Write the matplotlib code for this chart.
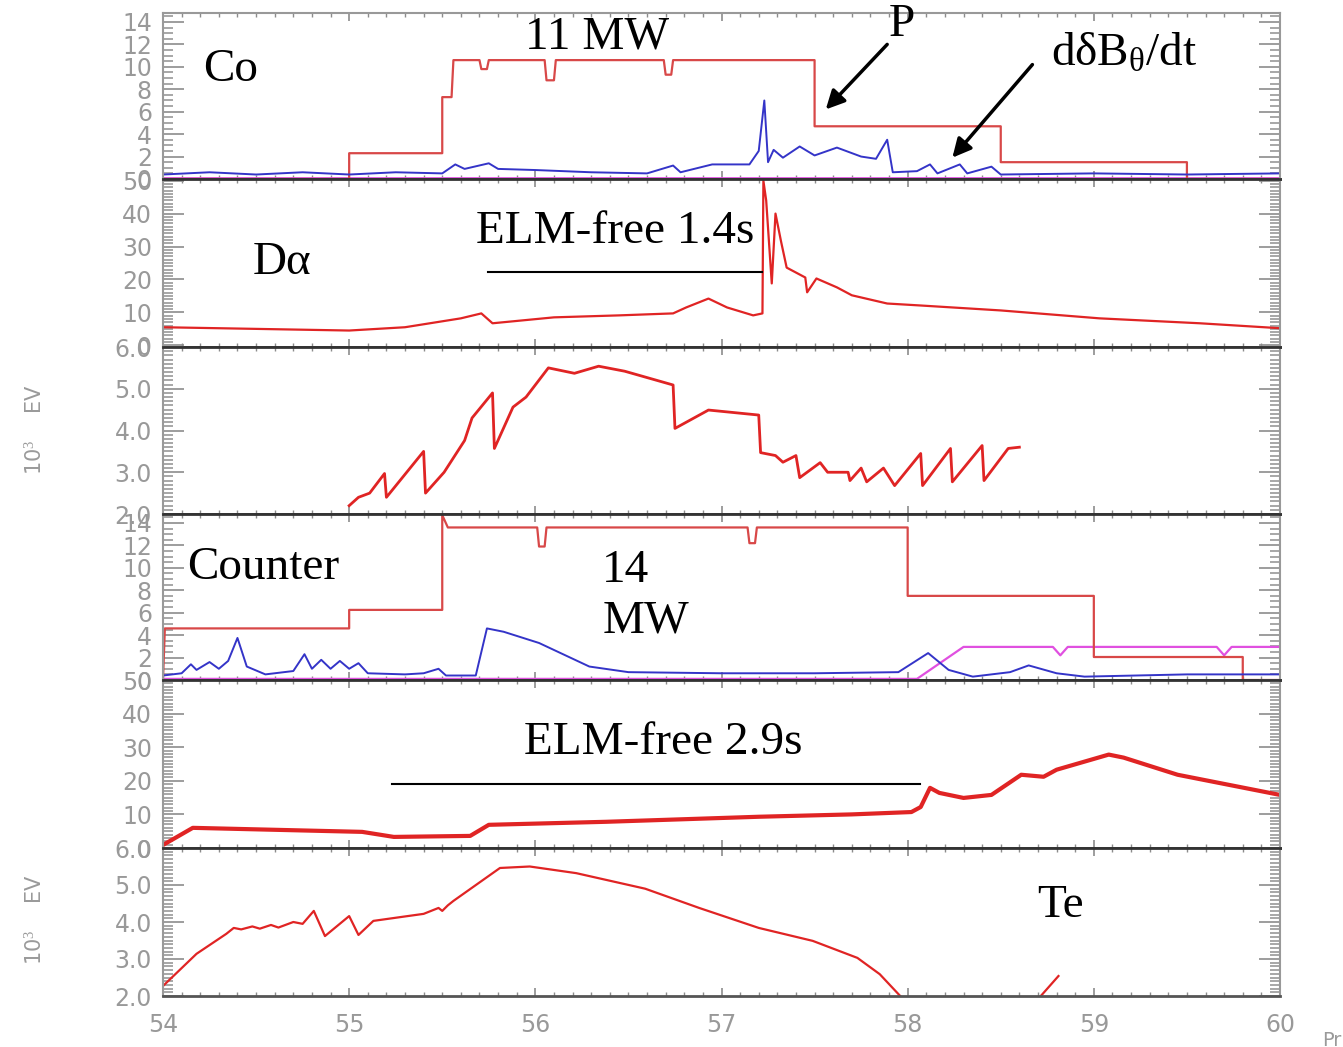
import numpy as np
import matplotlib.pyplot as plt
from matplotlib.ticker import MultipleLocator, FormatStrFormatter

plt.rcParams['mathtext.fontset'] = 'custom'
plt.rcParams['mathtext.rm'] = 'Liberation Serif'
plt.rcParams['mathtext.it'] = 'Liberation Serif:italic'

# ---- co-injection shot: NBI power and d(dB)/dt (MW, a.u.)
co_pow_t = [54.0, 55.0, 55.0, 55.5, 55.5, 55.55, 55.56, 55.70, 55.71, 55.74, 55.75,
            56.05, 56.06, 56.10, 56.11, 56.69, 56.70, 56.73, 56.74, 57.5, 57.5,
            58.5, 58.5, 59.5, 59.5, 60.0]
co_pow_v = [0.0, 0.0, 2.3, 2.3, 7.3, 7.3, 10.6, 10.6, 9.8, 9.8, 10.6,
            10.6, 8.8, 8.8, 10.6, 10.6, 9.3, 9.3, 10.6, 10.6, 4.7,
            4.7, 1.5, 1.5, 0.0, 0.0]

co_db_t = [54.0, 54.25, 54.5, 54.75, 55.0, 55.25, 55.5, 55.57, 55.62, 55.75, 55.8,
           56.0, 56.3, 56.6, 56.74, 56.78, 56.95, 57.15, 57.2, 57.23, 57.25, 57.28,
           57.33, 57.42, 57.5, 57.62, 57.75, 57.83, 57.89, 57.92, 58.05, 58.12,
           58.16, 58.28, 58.32, 58.45, 58.5, 59.0, 59.5, 60.0]
co_db_v = [0.4, 0.6, 0.4, 0.6, 0.4, 0.6, 0.5, 1.3, 0.9, 1.4, 0.9,
           0.8, 0.6, 0.5, 1.2, 0.6, 1.3, 1.3, 2.5, 7.0, 1.5, 2.6,
           1.9, 2.9, 2.1, 2.8, 2.0, 1.8, 3.5, 0.6, 0.7, 1.3,
           0.5, 1.3, 0.5, 1.1, 0.4, 0.5, 0.4, 0.5]

co_mag_t = [54.0, 60.0]
co_mag_v = [0.05, 0.05]

# ---- co-injection D-alpha
co_da_t = [54.0, 54.5, 55.0, 55.3, 55.6, 55.71, 55.77, 56.1, 56.45, 56.74, 56.81,
           56.93, 57.03, 57.17, 57.22, 57.225, 57.24, 57.27, 57.29, 57.32, 57.35,
           57.45, 57.46, 57.51, 57.62, 57.7, 57.89, 58.07, 58.5, 59.03, 59.57, 60.0]
co_da_v = [5.5, 5.0, 4.5, 5.5, 8.2, 9.7, 6.7, 8.5, 9.1, 9.7, 11.5,
           14.2, 11.5, 9.1, 9.7, 50.0, 44.0, 18.8, 40.0, 31.5, 23.6,
           20.6, 16.1, 20.3, 17.6, 15.2, 12.7, 12.1, 10.6, 8.2, 6.7, 5.2]

# ---- co-injection Te (keV)
co_te_t = [55.0, 55.05, 55.11, 55.19, 55.2, 55.4, 55.41, 55.51, 55.62, 55.66, 55.77,
           55.78, 55.88, 55.95, 56.07, 56.21, 56.34, 56.48, 56.74, 56.75, 56.93,
           57.2, 57.21, 57.29, 57.33, 57.4, 57.42, 57.53, 57.57, 57.68, 57.69,
           57.75, 57.78, 57.87, 57.93, 58.07, 58.08, 58.23, 58.24, 58.4, 58.41,
           58.54, 58.6]
co_te_v = [2.2, 2.4, 2.5, 2.97, 2.4, 3.5, 2.5, 3.0, 3.76, 4.3, 4.9,
           3.57, 4.56, 4.8, 5.5, 5.37, 5.54, 5.42, 5.09, 4.05, 4.49,
           4.37, 3.47, 3.4, 3.24, 3.4, 2.87, 3.23, 3.0, 3.0, 2.8,
           3.1, 2.77, 3.1, 2.68, 3.45, 2.68, 3.57, 2.77, 3.64, 2.8,
           3.57, 3.6]

# ---- counter-injection shot
cnt_pow_t = [54.0, 54.01, 55.0, 55.0, 55.5, 55.5, 55.53, 56.01, 56.02, 56.05, 56.06,
             57.14, 57.15, 57.18, 57.19, 58.0, 58.0, 59.0, 59.0, 59.8, 59.8, 60.0]
cnt_pow_v = [0.0, 4.6, 4.6, 6.25, 6.25, 14.7, 13.6, 13.6, 11.9, 11.9, 13.6,
             13.6, 12.2, 12.2, 13.6, 13.6, 7.5, 7.5, 2.05, 2.05, 0.0, 0.0]

cnt_db_t = [54.0, 54.1, 54.15, 54.18, 54.25, 54.3, 54.35, 54.4, 54.45, 54.55, 54.7,
            54.76, 54.8, 54.85, 54.9, 54.95, 55.0, 55.05, 55.1, 55.3, 55.4, 55.48,
            55.52, 55.68, 55.74, 55.83, 56.02, 56.29, 56.5, 57.0, 57.5, 57.95,
            58.11, 58.22, 58.35, 58.55, 58.65, 58.8, 58.95, 59.5, 60.0]
cnt_db_v = [0.4, 0.6, 1.4, 0.9, 1.6, 1.0, 1.7, 3.75, 1.2, 0.5, 0.8,
            2.3, 1.0, 1.8, 1.0, 1.7, 1.0, 1.5, 0.6, 0.5, 0.6, 1.0,
            0.4, 0.4, 4.6, 4.3, 3.3, 1.2, 0.7, 0.6, 0.6, 0.7,
            2.4, 0.9, 0.3, 0.7, 1.3, 0.6, 0.3, 0.5, 0.5]

cnt_mag_t = [54.0, 58.05, 58.3, 58.78, 58.82, 58.86, 59.66, 59.7, 59.74, 60.0]
cnt_mag_v = [0.1, 0.1, 2.95, 2.95, 2.2, 2.95, 2.95, 2.2, 2.95, 2.95]

cnt_da_t = [54.0, 54.16, 55.07, 55.24, 55.65, 55.75, 56.38, 57.2, 57.7, 58.02, 58.07,
            58.12, 58.17, 58.3, 58.45, 58.61, 58.73, 58.8, 59.08, 59.16, 59.45, 60.0]
cnt_da_v = [0.9, 6.0, 4.8, 3.3, 3.6, 6.9, 7.8, 9.3, 10.0, 10.7, 12.2,
            17.9, 16.4, 14.9, 15.8, 21.8, 21.2, 23.3, 27.8, 26.9, 21.8, 15.8]

cnt_te_t = [54.0, 54.18, 54.34, 54.38, 54.42, 54.48, 54.52, 54.58, 54.62, 54.7, 54.75,
            54.81, 54.87, 55.0, 55.05, 55.13, 55.3, 55.4, 55.48, 55.5, 55.53, 55.56,
            55.81, 55.97, 56.22, 56.59, 56.88, 57.2, 57.49, 57.73, 57.85, 57.96, 58.0]
cnt_te_v = [2.27, 3.14, 3.68, 3.84, 3.8, 3.88, 3.82, 3.92, 3.85, 4.0, 3.95,
            4.3, 3.62, 4.16, 3.65, 4.03, 4.15, 4.22, 4.38, 4.3, 4.45, 4.57,
            5.46, 5.5, 5.32, 4.9, 4.38, 3.84, 3.49, 3.03, 2.59, 2.0, 1.8]
cnt_te2_t = [58.68, 58.81]
cnt_te2_v = [1.8, 2.54]

xticks = [54, 55, 56, 57, 58, 59, 60]

# panel frames in pixels (top, bottom) on a 1343x1047 canvas
W, H = 1343, 1047
X0, X1 = 163, 1280
rows = [(13, 179), (179, 347), (347, 514), (514, 680), (680, 848), (848, 996)]

fig = plt.figure(figsize=(W / 100, H / 100), dpi=100)
axes = []
for top, bot in rows:
    ax = fig.add_axes([X0 / W, 1 - bot / H, (X1 - X0) / W, (bot - top) / H])
    axes.append(ax)
ax_pw, ax_da, ax_te, ax_pw2, ax_da2, ax_te2 = axes

RED = '#e02424'
PRED = '#d84848'
BLUE = '#3434c8'
MAG = '#e050e0'
GREY = '#8c8c8c'

ax_pw.plot(co_mag_t, co_mag_v, color=MAG, lw=2)
ax_pw.plot(co_pow_t, co_pow_v, color=PRED, lw=1.6)
ax_pw.plot(co_db_t, co_db_v, color=BLUE, lw=1.4)
ax_da.plot(co_da_t, co_da_v, color=RED, lw=1.6)
ax_te.plot(co_te_t, co_te_v, color=RED, lw=2)
ax_pw2.plot(cnt_mag_t, cnt_mag_v, color=MAG, lw=1.6)
ax_pw2.plot(cnt_pow_t, cnt_pow_v, color=PRED, lw=1.6)
ax_pw2.plot(cnt_db_t, cnt_db_v, color=BLUE, lw=1.4)
ax_da2.plot(cnt_da_t, cnt_da_v, color=RED, lw=3)
ax_te2.plot(cnt_te_t, cnt_te_v, color=RED, lw=1.6)
ax_te2.plot(cnt_te2_t, cnt_te2_v, color=RED, lw=1.6)

ylims = [(0, 14.8), (-0.5, 50.5), (2, 6), (0, 14.8), (0, 50), (2, 6)]
ysteps = [(2, 0.5), (10, 1), (1, 0.1), (2, 0.5), (10, 1), (1, 0.1)]
for i, ax in enumerate(axes):
    ax.set_xlim(54, 60)
    ax.set_ylim(*ylims[i])
    major, minor = ysteps[i]
    ax.yaxis.set_major_locator(MultipleLocator(major))
    ax.yaxis.set_minor_locator(MultipleLocator(minor))
    ax.xaxis.set_major_locator(MultipleLocator(1))
    ax.xaxis.set_minor_locator(MultipleLocator(0.1))
    if major == 1:
        ax.yaxis.set_major_formatter(FormatStrFormatter('%.1f'))
    ax.tick_params(axis='y', which='major', direction='in', length=15, width=1.2,
                   color=GREY, left=True, right=True, labelsize=17,
                   labelcolor='#999999', pad=8)
    ax.tick_params(axis='y', which='minor', direction='in', length=7, width=1.3,
                   color='#a0a0a0', left=True, right=True)
    ax.tick_params(axis='x', which='major', direction='in', length=6, width=1.2,
                   color=GREY, top=True, bottom=True, labelsize=17,
                   labelcolor='#999999', pad=12)
    ax.tick_params(axis='x', which='minor', direction='in', length=3, width=1,
                   color=GREY, top=True, bottom=True)
    if i < 5:
        ax.tick_params(axis='x', labelbottom=False)
    for side in ('left', 'right'):
        ax.spines[side].set_color('#999999')
        ax.spines[side].set_linewidth(1.5)
    for side in ('top', 'bottom'):
        ax.spines[side].set_color('#333333')
        ax.spines[side].set_linewidth(2)
    for lab in ax.get_yticklabels() + ax.get_xticklabels():
        lab.set_family(['Liberation Sans Narrow', 'DejaVu Sans'])
ax_pw.spines['top'].set_color('#999999')
ax_pw.spines['top'].set_linewidth(1.5)
ax_te2.spines['bottom'].set_color('#555555')
ax_te2.set_xticks(xticks)

serif = dict(family='Liberation Serif', fontsize=34, color='black')
ax_pw.text(54.365, 9.7, 'Co', ha='center', va='center', **serif)
ax_pw.text(56.33, 12.6, '11 MW', ha='center', va='center', **serif)
ax_pw.text(57.97, 13.75, 'P', ha='center', va='center', **serif)
ax_pw.text(58.77, 11.1, r'dδB$_{\mathrm{θ}}$/dt', ha='left', va='center', **serif)
arrow = dict(arrowstyle='-|>', color='black', lw=2.5, mutation_scale=28,
             shrinkA=0, shrinkB=0)
ax_pw.annotate('', xy=(57.56, 6.2), xytext=(57.89, 12.0), arrowprops=arrow)
ax_pw.annotate('', xy=(58.24, 1.9), xytext=(58.67, 10.2), arrowprops=arrow)

ax_da.text(54.64, 25.2, 'Dα', ha='center', va='center', **serif)
ax_da.text(56.43, 34.5, 'ELM-free 1.4s', ha='center', va='center', **serif)
ax_da.plot([55.745, 57.217], [22.4, 22.4], color='black', lw=1.5)

ax_pw2.text(54.54, 10.0, 'Counter', ha='center', va='center', **serif)
ax_pw2.text(56.36, 7.5, '14\nMW', ha='left', va='center', linespacing=1.25, **serif)

ax_da2.text(56.685, 31.3, 'ELM-free 2.9s', ha='center', va='center', **serif)
ax_da2.plot([55.23, 58.065], [19.1, 19.1], color='black', lw=1.5)

ax_te2.text(58.82, 4.43, 'Te', ha='center', va='center', **serif)

# unit labels for the two Te panels
for yc in (430, 920):
    fig.text(35 / W, 1 - yc / H, r'10$^{\mathrm{3}}$    EV', rotation=90,
             ha='center', va='center', fontsize=15, color='#9a9a9a',
             family='DejaVu Sans')
fig.text(1322 / W, 1 - 1040 / H, 'Pr', ha='left', va='center', fontsize=14,
         color='#9a9a9a', family='DejaVu Sans')

fig.savefig('out.png', dpi=100)
